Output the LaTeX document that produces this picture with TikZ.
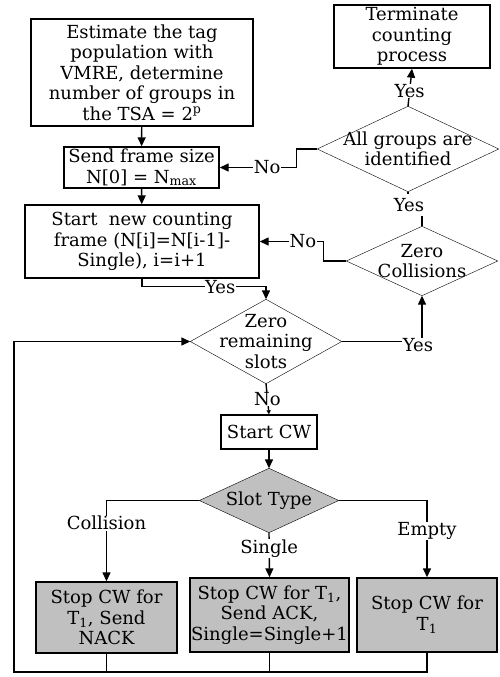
\documentclass[tikz,border=0pt]{standalone}
\usepackage{fontspec}
\setmainfont{DejaVu Serif}
\usetikzlibrary{arrows.meta,backgrounds}
\definecolor{boxgray}{RGB}{192,192,192}
\begin{document}
\begin{tikzpicture}[x=1pt,y=-1pt, line width=1.4pt,
  every node/.style={font=\fontsize{18}{20.5}\selectfont},
  box/.style={draw, rectangle, align=center, inner sep=1pt},
  gbox/.style={box, fill=boxgray},
  dbox/.style={rectangle, align=center, inner sep=0pt},
  lab/.style={fill=white, inner sep=0.5pt},
  arr/.style={-{Triangle[length=9pt,width=8pt]}},
  sarr/.style={-{Triangle[length=4pt,width=4pt]}}]
\useasboundingbox (0,0) rectangle (499,677);

% nodes
\node[box, minimum width=222pt, minimum height=107pt] (est) at (142,72.5)
  {Estimate the tag\\population with\\VMRE, determine\\number of groups in\\the TSA = 2\textsuperscript{p}};
\node[box, minimum width=156pt, minimum height=63pt] (term) at (412,36.5)
  {Terminate\\counting\\process};
\node[box, minimum width=155pt, minimum height=41pt] (send) at (141.5,167.5)
  {Send frame size\\N[0] = N\textsubscript{max}};
\node[box, minimum width=234pt, minimum height=73pt] (start) at (142,241.5)
  {Start~ new counting\\frame (N[i]=N[i-1]-\\Single), i=i+1};
\node[dbox, minimum width=180pt, minimum height=84pt] (ag) at (408,149)
  {All groups are\\identified};
\node[dbox, minimum width=150pt, minimum height=68pt] (zc) at (422,261)
  {Zero\\Collisions};
\node[dbox, minimum width=150pt, minimum height=83pt] (zr) at (266,341.5)
  {Zero\\remaining\\slots};
\node[box, minimum width=96pt, minimum height=34pt] (cw) at (269,432) {Start CW};
\node[dbox, minimum width=138pt, minimum height=63pt] (st) at (269,500.5) {Slot Type};
\node[gbox, minimum width=141pt, minimum height=71pt] (c1) at (106.5,617.5)
  {Stop CW for\\T\textsubscript{1}, Send\\NACK};
\node[gbox, minimum width=153pt, minimum height=74pt] (c2) at (269.5,615)
  {Stop CW for T\textsubscript{1},\\Send ACK,\\Single=Single+1};
\node[gbox, minimum width=140pt, minimum height=74pt] (c3) at (427,615)
  {Stop CW for\\T\textsubscript{1}};

% diamonds
\begin{scope}[on background layer]
  \draw (ag.north) -- (ag.east) -- (ag.south) -- (ag.west) -- cycle;
  \draw (zc.north) -- (zc.east) -- (zc.south) -- (zc.west) -- cycle;
  \draw (zr.north) -- (zr.east) -- (zr.south) -- (zr.west) -- cycle;
  \draw[fill=boxgray] (st.north) -- (st.east) -- (st.south) -- (st.west) -- cycle;
\end{scope}

% connectors
\draw[arr] (est) -- (send);
\draw[arr] (send) -- (start);
\draw[arr] (ag.north) -- node[lab, pos=0.4]{Yes} (term.south);
\draw[arr] (ag.west) -- ++(-21,0) |- node[lab, pos=0.69]{No} (send.east);
\draw[arr] (zc.west) -- ++(-23,0) |- node[lab, pos=0.66]{No} (start.east);
\node (y1) at (409,205) {Yes};
\draw (ag.south) -- (ag.south |- y1.north);
\draw (zc.north) -- (zc.north |- y1.south);
\draw[arr] (start.south) -- ++(0,8) -| node[lab, pos=0.315]{Yes} (zr.north);
\draw[arr] (zr.east) -| node[lab, pos=0.5, xshift=-4pt, yshift=-4pt]{Yes} (zc.south);
\draw[sarr] (zr.south) -- node[lab]{No} (cw.north);
\draw[arr] (cw) -- (st);
\draw[arr] (st.west) -| node[lab, pos=0.64]{Collision} (c1.north);
\draw[arr] (st.south) -- node[lab, pos=0.35]{Single} (c2.north);
\draw[arr] (st.east) -| node[lab, pos=0.70]{Empty} (c3.north);

% feedback loop
\coordinate (bl) at (14,672);
\draw (c1.south) -- (c1.south |- bl);
\draw (c2.south) -- (c2.south |- bl);
\draw[arr] (c3.south) |- (bl) |- (zr.west);
\end{tikzpicture}
\end{document}
